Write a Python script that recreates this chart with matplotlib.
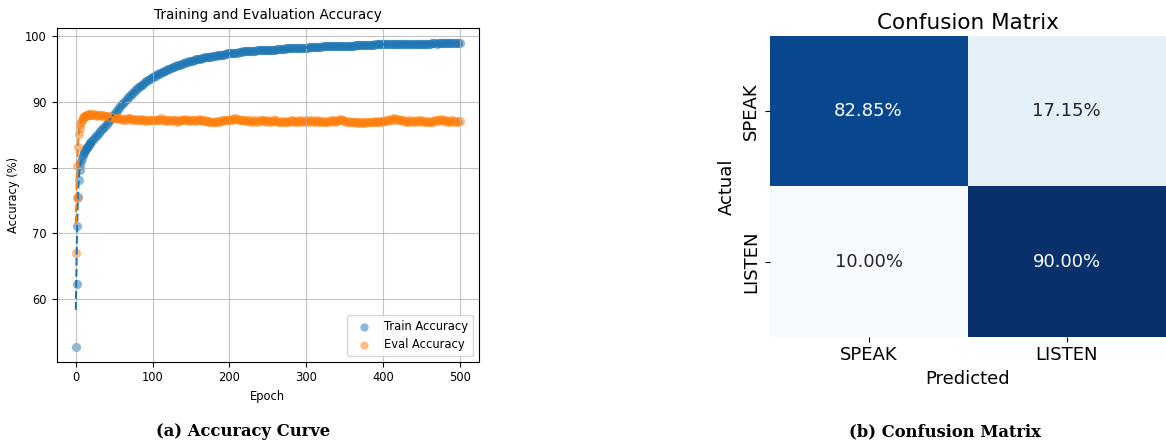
import numpy as np
import matplotlib.pyplot as plt
from matplotlib.colors import Normalize

# epochs: every epoch at the start, then every 2 epochs
epochs = list(range(0, 21)) + list(range(22, 501, 2))

train_acc = [
    52.7, 62.2, 71.1, 75.5, 78.1, 79.6, 80.4, 81.0, 81.5, 81.9,
    82.2, 82.4, 82.6, 82.8, 83.0, 83.2, 83.3, 83.5, 83.7, 83.8, 84.0,
    84.2, 84.5, 84.8, 85.0, 85.3, 85.6, 85.9, 86.1, 86.4, 86.7,
    87.0, 87.3, 87.6, 87.9, 88.2, 88.5, 88.8, 89.1, 89.4, 89.7,
    89.9, 90.2, 90.4, 90.7, 90.9, 91.2, 91.4, 91.6, 91.9, 92.1,
    92.3, 92.5, 92.6, 92.8, 93.0, 93.2, 93.3, 93.5, 93.6, 93.8,
    93.9, 94.0, 94.2, 94.3, 94.4, 94.5, 94.6, 94.8, 94.9, 95.0,
    95.1, 95.2, 95.3, 95.4, 95.5, 95.6, 95.6, 95.7, 95.8, 95.9,
    96.0, 96.1, 96.1, 96.2, 96.3, 96.3, 96.4, 96.5, 96.5, 96.6,
    96.6, 96.7, 96.7, 96.8, 96.8, 96.8, 96.9, 96.9, 97.0, 97.0,
    97.0, 97.1, 97.1, 97.1, 97.2, 97.2, 97.3, 97.3, 97.4, 97.4,
    97.4, 97.5, 97.5, 97.5, 97.5, 97.6, 97.6, 97.6, 97.7, 97.7,
    97.7, 97.7, 97.8, 97.8, 97.8, 97.8, 97.8, 97.9, 97.9, 97.9,
    97.9, 97.9, 97.9, 98.0, 98.0, 98.0, 98.0, 98.0, 98.0, 98.0,
    98.1, 98.1, 98.1, 98.1, 98.1, 98.1, 98.2, 98.2, 98.2, 98.2,
    98.2, 98.2, 98.2, 98.3, 98.3, 98.3, 98.3, 98.3, 98.3, 98.3,
    98.3, 98.4, 98.4, 98.4, 98.4, 98.4, 98.4, 98.4, 98.4, 98.4,
    98.5, 98.5, 98.5, 98.5, 98.5, 98.5, 98.5, 98.5, 98.5, 98.5,
    98.6, 98.6, 98.6, 98.6, 98.6, 98.6, 98.6, 98.6, 98.6, 98.6,
    98.6, 98.7, 98.7, 98.7, 98.7, 98.7, 98.7, 98.7, 98.7, 98.7,
    98.7, 98.7, 98.7, 98.7, 98.8, 98.8, 98.8, 98.8, 98.8, 98.8,
    98.8, 98.8, 98.8, 98.8, 98.8, 98.8, 98.8, 98.8, 98.8, 98.8,
    98.8, 98.9, 98.9, 98.9, 98.9, 98.9, 98.9, 98.9, 98.9, 98.9,
    98.9, 98.9, 98.9, 98.9, 98.9, 98.9, 98.9, 98.9, 98.9, 98.9,
    98.9, 99.0, 99.0, 99.0, 98.9, 99.0, 99.0, 99.0, 99.0, 99.0,
    99.0, 99.0, 99.0, 99.0, 99.0, 99.0, 99.0, 99.0, 99.0, 99.0,
]

eval_acc = [
    67.0, 75.4, 80.3, 83.2, 85.1, 86.0, 86.6, 87.0, 87.3, 87.5,
    87.7, 87.8, 87.9, 87.9, 88.0, 88.0, 88.0, 88.1, 88.0, 88.1, 88.0,
    88.0, 88.1, 88.0, 87.9, 88.0, 88.0, 87.9, 88.0, 87.9, 87.8,
    87.8, 87.7, 87.7, 87.6, 87.6, 87.5, 87.5, 87.4, 87.5, 87.4,
    87.3, 87.4, 87.3, 87.5, 87.6, 87.4, 87.3, 87.4, 87.3, 87.4,
    87.2, 87.3, 87.4, 87.2, 87.3, 87.1, 87.2, 87.3, 87.2, 87.2,
    87.3, 87.2, 87.3, 87.4, 87.3, 87.5, 87.3, 87.2, 87.1, 87.2,
    87.3, 87.1, 87.2, 87.3, 87.2, 87.0, 87.1, 87.2, 87.3, 87.2,
    87.4, 87.3, 87.2, 87.1, 87.2, 87.3, 87.2, 87.1, 87.3, 87.4,
    87.2, 87.3, 87.1, 87.2, 87.1, 87.0, 87.1, 87.0, 86.9, 87.0,
    86.9, 87.1, 87.0, 87.1, 87.2, 87.1, 87.2, 87.3, 87.2, 87.3,
    87.4, 87.3, 87.4, 87.5, 87.4, 87.3, 87.2, 87.3, 87.2, 87.1,
    87.2, 87.1, 87.2, 87.0, 87.1, 87.2, 87.1, 87.0, 87.2, 87.1,
    87.2, 87.3, 87.1, 87.0, 87.2, 87.1, 87.0, 87.1, 87.2, 87.3,
    87.1, 87.0, 86.9, 87.0, 87.1, 87.0, 86.9, 87.1, 87.0, 87.1,
    87.2, 87.1, 87.0, 87.1, 87.0, 87.2, 87.1, 87.0, 87.1, 87.2,
    87.0, 87.1, 87.2, 87.1, 87.0, 87.1, 87.2, 87.0, 87.1, 87.0,
    87.1, 86.9, 87.0, 87.1, 87.0, 87.2, 87.1, 87.2, 87.0, 87.1,
    87.3, 87.2, 87.4, 87.2, 87.1, 87.0, 87.1, 86.9, 87.0, 87.0,
    86.9, 87.0, 86.8, 86.9, 87.0, 86.8, 86.9, 86.8, 86.9, 87.0,
    86.9, 87.0, 86.9, 87.0, 87.1, 86.9, 87.0, 87.1, 87.0, 87.1,
    87.1, 87.2, 87.1, 87.3, 87.4, 87.3, 87.5, 87.4, 87.3, 87.4,
    87.3, 87.2, 87.1, 87.2, 87.0, 87.1, 87.0, 87.2, 87.1, 87.0,
    87.1, 87.2, 87.0, 87.1, 87.2, 87.1, 86.9, 87.0, 87.1, 86.9,
    87.0, 87.1, 87.0, 87.2, 87.3, 87.1, 87.2, 87.4, 87.3, 87.1,
    87.2, 87.0, 87.1, 87.0, 87.2, 87.1, 87.0, 87.1, 87.0, 87.1,
]

# dashed trend lines (differ from the points only in the first epochs)
train_trend_start = [58.3, 66.5, 72.5, 76.3, 78.6, 80.0]
eval_trend_start = [71.5, 77.5, 81.3, 83.8, 85.4, 86.2]

classes = ["SPEAK", "LISTEN"]
conf = np.array([[82.85, 17.15],
                 [10.00, 90.00]])

fig = plt.figure(figsize=(11.66, 4.44), dpi=100)

# accuracy curve
ax1 = fig.add_axes([0.0486, 0.1854, 0.362, 0.752])
n0 = len(train_trend_start)
train_line = train_trend_start + train_acc[n0:]
eval_line = eval_trend_start + eval_acc[n0:]
ax1.scatter(epochs, train_acc, s=44, color="#1f77b4", alpha=0.5, label="Train Accuracy", linewidths=0)
ax1.scatter(epochs, eval_acc, s=44, color="#ff7f0e", alpha=0.5, label="Eval Accuracy", linewidths=0)
ax1.plot(epochs, train_line, "--", color="#1f77b4", lw=1.5)
ax1.plot(epochs, eval_line, "--", color="#ff7f0e", lw=1.5)
ax1.set_title("Training and Evaluation Accuracy", fontsize=9.8)
ax1.set_xlabel("Epoch", fontsize=8.3)
ax1.set_ylabel("Accuracy (%)", fontsize=8.3)
ax1.tick_params(labelsize=8.3)
ax1.set_yticks([60, 70, 80, 90, 100])
ax1.grid(True, color="#b0b0b0", alpha=0.75)
ax1.legend(loc="lower right", fontsize=8.3, markerscale=0.9)

# confusion matrix
ax2 = fig.add_axes([0.660, 0.2417, 0.3396, 0.677])
norm = Normalize(vmin=conf.min(), vmax=conf.max())
ax2.pcolormesh(conf, cmap="Blues", norm=norm)
ax2.set_xlim(0, 2)
ax2.set_ylim(2, 0)
for i in range(2):
    for j in range(2):
        v = conf[i, j]
        col = "white" if norm(v) > 0.5 else "#262626"
        ax2.text(j + 0.5, i + 0.5, f"{v:.2f}%", ha="center", va="center",
                 color=col, fontsize=13)
ax2.set_xticks([0.5, 1.5])
ax2.set_xticklabels(classes, fontsize=13)
ax2.set_yticks([0.5, 1.5])
ax2.set_yticklabels(classes, fontsize=13, rotation=90, va="center")
ax2.set_xlabel("Predicted", fontsize=13)
ax2.set_ylabel("Actual", fontsize=13)
ax2.set_title("Confusion Matrix", fontsize=15.5, pad=5)
for sp in ax2.spines.values():
    sp.set_visible(False)

# captions
fig.text(0.2085, 0.008, "(a) Accuracy Curve", ha="center", va="bottom",
         fontsize=11.8, fontweight="bold", family="DejaVu Serif")
fig.text(0.8105, 0.008, "(b) Confusion Matrix", ha="center", va="bottom",
         fontsize=11.8, fontweight="bold", family="DejaVu Serif")

fig.savefig("out.png", dpi=100)
